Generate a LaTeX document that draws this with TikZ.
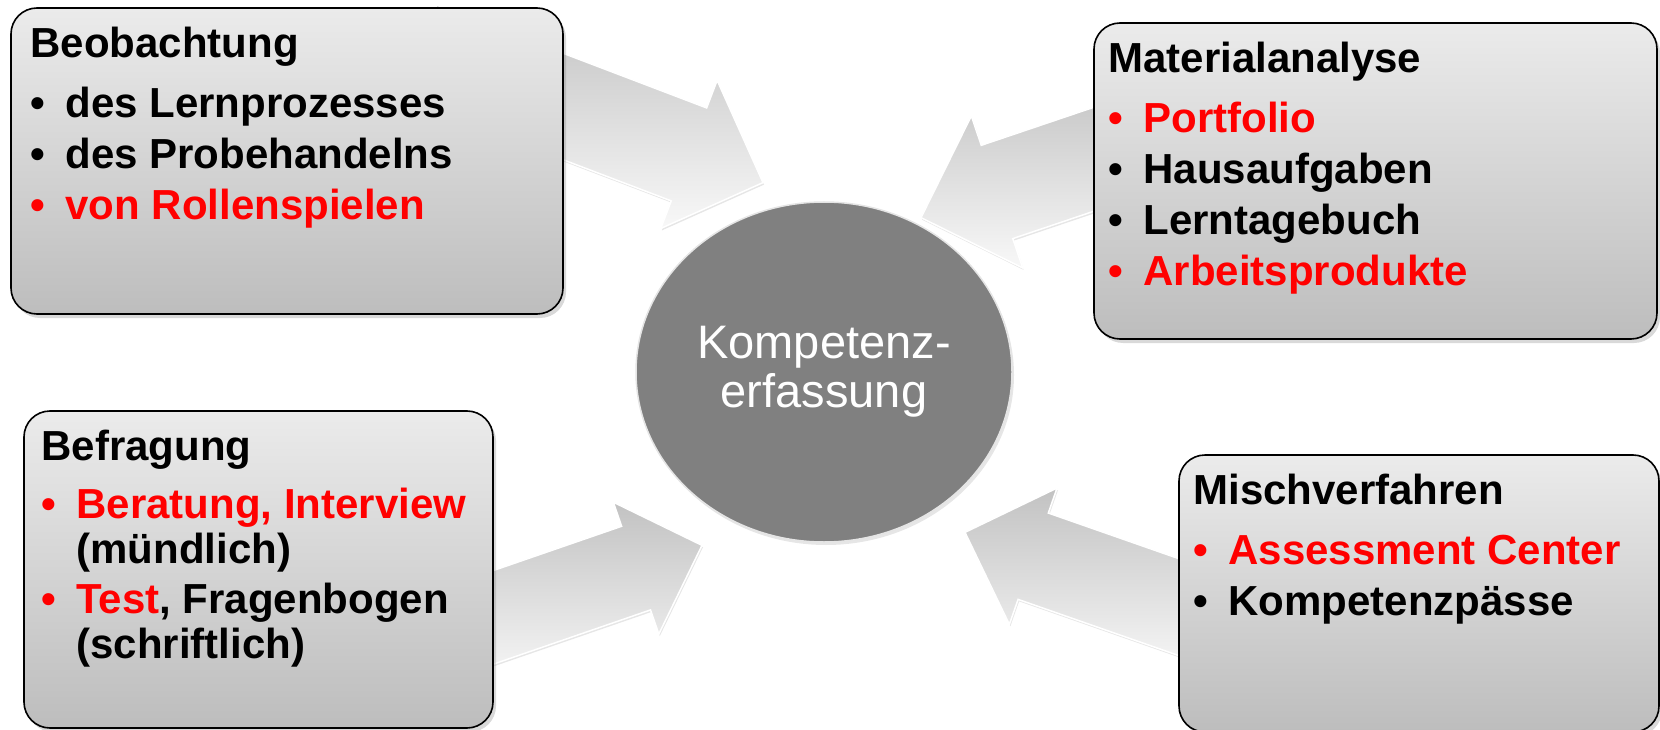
\documentclass[tikz,border=0pt]{standalone}
\usepackage{fontspec}
\setmainfont{Liberation Sans}
\usetikzlibrary{positioning,shapes.geometric,shapes.arrows,shadows}

\definecolor{boxtop}{HTML}{EBEBEB}
\definecolor{boxbottom}{HTML}{BDBDBD}
\definecolor{arrowdark}{HTML}{C2C2C2}
\definecolor{arrowlight}{HTML}{F8F8F8}
\definecolor{kerngray}{HTML}{808080}

% bullet item, colour covers bullet and first text
\newcommand{\itm}[2][black]{{\color{#1}\makebox[35pt][l]{\textbullet}#2}}

\tikzset{
  methodbox/.style={rectangle, rounded corners=26pt, draw=black, line width=1.6pt,
    top color=boxtop, bottom color=boxbottom, inner sep=0pt,
    drop shadow={shadow xshift=3pt, shadow yshift=-4pt, opacity=.3}},
  methodtext/.style={align=left, inner sep=0pt, anchor=north west,
    font=\fontsize{42}{45}\selectfont\bfseries},
  bigarrow/.style={single arrow, sloped, allow upside down, anchor=tip, inner sep=0pt,
    text depth=0pt, draw=white, line width=1.5pt, top color=arrowdark, bottom color=arrowlight,
    drop shadow={shadow xshift=1pt, shadow yshift=-2pt, opacity=.2}},
  kernnode/.style={ellipse, fill=kerngray, draw=white!90!black, line width=1.5pt,
    text=white, align=center, font=\fontsize{47}{49}\selectfont,
    drop shadow={shadow xshift=2pt, shadow yshift=-3pt, opacity=.2}}
}

\begin{document}
\begin{tikzpicture}[x=1pt, y=-1pt]
\useasboundingbox (0,0) rectangle (1660,730);

% centre
\node[kernnode, minimum width=376pt, minimum height=340pt] (kern) at (824,372) {Kompetenz-\\erfassung};

% arrows towards the centre
\coordinate (a1tail) at (420,52);   \coordinate (a1tip) at (764,183);
\coordinate (a2tail) at (1204,122); \coordinate (a2tip) at (920,218);
\coordinate (a3tail) at (419,643);  \coordinate (a3tip) at (703,545);
\coordinate (a4tail) at (1247,631); \coordinate (a4tip) at (964,532);

\path (a1tail) -- (a1tip) node[bigarrow, pos=1, minimum height=368pt, text height=98pt, minimum width=157pt, single arrow head extend=29.5pt] (arr1) {};
\path (a2tail) -- (a2tip) node[bigarrow, pos=1, minimum height=300pt, text height=97pt, minimum width=159pt, single arrow head extend=31pt] (arr2) {};
\path (a3tail) -- (a3tip) node[bigarrow, pos=1, minimum height=300pt, text height=87pt, minimum width=138pt, single arrow head extend=25.5pt] (arr3) {};
\path (a4tail) -- (a4tip) node[bigarrow, pos=1, minimum height=300pt, text height=90pt, minimum width=143pt, single arrow head extend=26.5pt] (arr4) {};

% method boxes
\node[methodbox, minimum width=552pt, minimum height=306pt] (beob) at (287,161) {};
\node[methodtext, below right=20pt and 20pt of beob.north west] (beobtext) {%
  Beobachtung\\[15pt]
  \itm{des Lernprozesses}\\[6pt]
  \itm{des Probehandelns}\\[6pt]
  \itm[red]{von Rollenspielen}};

\node[methodbox, minimum width=563pt, minimum height=316pt] (mat) at (1375.5,181) {};
\node[methodtext, below right=20pt and 15pt of mat.north west] (mattext) {%
  Materialanalyse\\[15pt]
  \itm[red]{Portfolio}\\[6pt]
  \itm{Hausaufgaben}\\[6pt]
  \itm{Lerntagebuch}\\[6pt]
  \itm[red]{Arbeitsprodukte}};

\node[methodbox, minimum width=469pt, minimum height=317pt] (befr) at (258.5,569.5) {};
\node[methodtext, below right=20pt and 18pt of befr.north west] (befrtext) {%
  Befragung\\[13pt]
  \itm[red]{Beratung, Interview}\\
  \hspace*{35pt}(mündlich)\\[5pt]
  \itm[red]{Test}, Fragenbogen\\
  \hspace*{35pt}(schriftlich)};

\node[methodbox, minimum width=480pt, minimum height=277pt] (misch) at (1419,593.5) {};
\node[methodtext, below right=20pt and 15pt of misch.north west] (mischtext) {%
  Mischverfahren\\[15pt]
  \itm[red]{Assessment Center}\\[6pt]
  \itm{Kompetenzpässe}};
\end{tikzpicture}
\end{document}
